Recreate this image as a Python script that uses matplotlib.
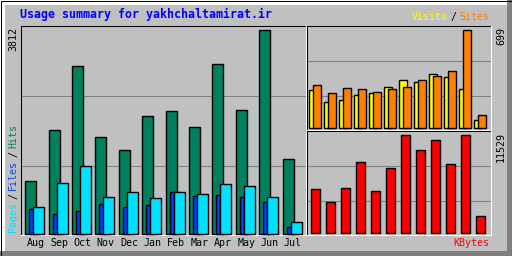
import matplotlib
matplotlib.use("Agg")
import matplotlib.pyplot as plt
import matplotlib.transforms as mtransforms
from matplotlib.patches import Rectangle
import numpy as np

# ---------------- data ----------------
title = "Usage summary for yakhchaltamirat.ir"
months = ["Aug", "Sep", "Oct", "Nov", "Dec", "Jan", "Feb", "Mar", "Apr", "May", "Jun", "Jul"]
hits = [985, 1934, 3124, 1804, 1556, 2194, 2287, 1990, 3161, 2306, 3812, 1389]
files = [465, 372, 428, 558, 502, 539, 770, 707, 725, 688, 595, 130]
pages = [497, 948, 1264, 688, 781, 669, 781, 744, 930, 893, 688, 223]
visits = [269, 184, 198, 234, 248, 290, 340, 326, 382, 361, 276, 57]
sites = [305, 248, 283, 276, 255, 276, 290, 340, 368, 404, 699, 92]
kbytes = [5078, 3554, 5196, 8245, 4844, 7541, 11480, 9652, 10825, 8010, 11529, 1912]

# ---------------- style ----------------
W, H = 512, 256
BG = "#C0C0C0"
DKGREY = "#808080"
C_HITS = "#00805C"
C_FILES = "#0040FF"
C_PAGES = "#00E0FF"
C_VISITS = "#FFFF00"
C_SITES = "#FF8000"
C_KB = "#FF0000"
MONO = "DejaVu Sans Mono"
LW = 0.75
BLW = 1.0
FS = 7.2

fig = plt.figure(figsize=(W / 100, H / 100), dpi=100, facecolor=BG)


def rect(x0, y0, x1, y1):
    return [x0 / W, 1 - y1 / H, (x1 - x0) / W, (y1 - y0) / H]


bg = fig.add_axes([0, 0, 1, 1])
bg.set_xlim(0, W)
bg.set_ylim(H, 0)
bg.axis("off")
bg.add_patch(Rectangle((0, 0), W, H, color=BG, lw=0))
# bevel border
bg.add_patch(Rectangle((0, 0), W, 5, color="white", lw=0))
bg.add_patch(Rectangle((0, 0), 5, H, color="white", lw=0))
bg.add_patch(Rectangle((0, H - 5), W, 5, color=DKGREY, lw=0))
bg.add_patch(Rectangle((W - 5, 0), 5, H, color=DKGREY, lw=0))
bg.add_patch(Rectangle((0.5, 0.5), W - 1, H - 1, fill=False, ec="black", lw=LW))

# grid lines
for y in (95.5, 165.5):
    bg.plot([21, 305], [y, y], color=DKGREY, lw=LW)
for y in (60.5, 95.5, 165.5, 200.5):
    bg.plot([307, 490], [y, y], color=DKGREY, lw=LW)

# frames (black top/left, white bottom/right)
def frame(x0, y0, x1, y1):
    bg.plot([x0, x1], [y0, y0], color="black", lw=LW)
    bg.plot([x0, x0], [y0, y1], color="black", lw=LW)
    bg.plot([x0, x1], [y1, y1], color="white", lw=LW)
    bg.plot([x1, x1], [y0, y1], color="white", lw=LW)

frame(20.5, 25.5, 305.5, 234.5)
frame(306.5, 25.5, 490.5, 129.5)
frame(306.5, 130.5, 490.5, 234.5)

x = np.arange(len(months))

# ---------------- main panel: hits / files / pages ----------------
sp1 = 23.4
ax1 = fig.add_axes(rect(20, 29.5, 305, 233.5))
lo1 = -5.3 / sp1
ax1.set_xlim(lo1, lo1 + 285 / sp1)
ax1.set_ylim(0, max(hits))
ax1.axis("off")
ax1.patch.set_alpha(0)
w1 = 11.0 / sp1
ax1.bar(x, hits, width=w1, align="edge", color=C_HITS, edgecolor="black", lw=BLW, clip_on=False)
ax1.bar(x + 4 / sp1, files, width=w1, align="edge", color=C_FILES, edgecolor="black", lw=BLW, clip_on=False)
ax1.bar(x + 8 / sp1, pages, width=w1, align="edge", color=C_PAGES, edgecolor="black", lw=BLW, clip_on=False)
tr = mtransforms.blended_transform_factory(ax1.transData, bg.transData)
for i, m in enumerate(months):
    ax1.text(i + 1.3 / sp1, 246.0, m, transform=tr, ha="left", va="baseline",
             fontsize=FS, family=MONO, color="black", clip_on=False)

# ---------------- visits / sites panel ----------------
sp2 = 15.0
ax2 = fig.add_axes(rect(305, 29.5, 491, 127.5))
lo2 = -4.0 / sp2
ax2.set_xlim(lo2, lo2 + 186 / sp2)
ax2.set_ylim(0, max(max(sites), max(visits)))
ax2.axis("off")
ax2.patch.set_alpha(0)
w2 = 7.5 / sp2
ax2.bar(x, visits, width=w2, align="edge", color=C_VISITS, edgecolor="black", lw=BLW, clip_on=False)
ax2.bar(x + 4 / sp2, sites, width=w2, align="edge", color=C_SITES, edgecolor="black", lw=BLW, clip_on=False)

# ---------------- kbytes panel ----------------
ax3 = fig.add_axes(rect(305, 134.5, 491, 232.5))
lo3 = -5.6 / sp2
ax3.set_xlim(lo3, lo3 + 186 / sp2)
ax3.set_ylim(0, max(kbytes))
ax3.axis("off")
ax3.patch.set_alpha(0)
ax3.bar(x, kbytes, width=9.0 / sp2, align="edge", color=C_KB, edgecolor="black", lw=BLW, clip_on=False)

# ---------------- texts ----------------
bg.text(20, 18.3, title, color="#0000FF", family=MONO, fontweight="bold", fontsize=8.4,
        ha="left", va="baseline")
bg.text(411.7, 20, "Visits", color=C_VISITS, family=MONO, fontsize=FS, ha="left", va="baseline")
bg.text(453.3, 20, "/", color="black", family=MONO, fontsize=FS, ha="center", va="baseline")
bg.text(459.3, 20, "Sites", color=C_SITES, family=MONO, fontsize=FS, ha="left", va="baseline")

vkw = dict(family=MONO, fontsize=FS, rotation=90, rotation_mode="anchor", va="baseline")
bg.text(16.0, 231.7, "Pages", color=C_PAGES, ha="left", **vkw)
bg.text(16.0, 195.9, "/", color="black", ha="center", **vkw)
bg.text(16.0, 190.1, "Files", color=C_FILES, ha="left", **vkw)
bg.text(16.0, 154.3, "/", color="black", ha="center", **vkw)
bg.text(16.0, 148.5, "Hits", color=C_HITS, ha="left", **vkw)

bg.text(16.5, 27.3, str(max(hits)), color="black", ha="right", **vkw)
bg.text(504.0, 27.3, str(max(sites)), color="black", ha="right", **vkw)
bg.text(504.0, 132.0, str(max(kbytes)), color="black", ha="right", **vkw)

bg.text(453.3, 246.5, "KBytes", color=C_KB, family=MONO, fontsize=FS, ha="left", va="baseline")

fig.savefig("out.png", dpi=100, facecolor=BG)
